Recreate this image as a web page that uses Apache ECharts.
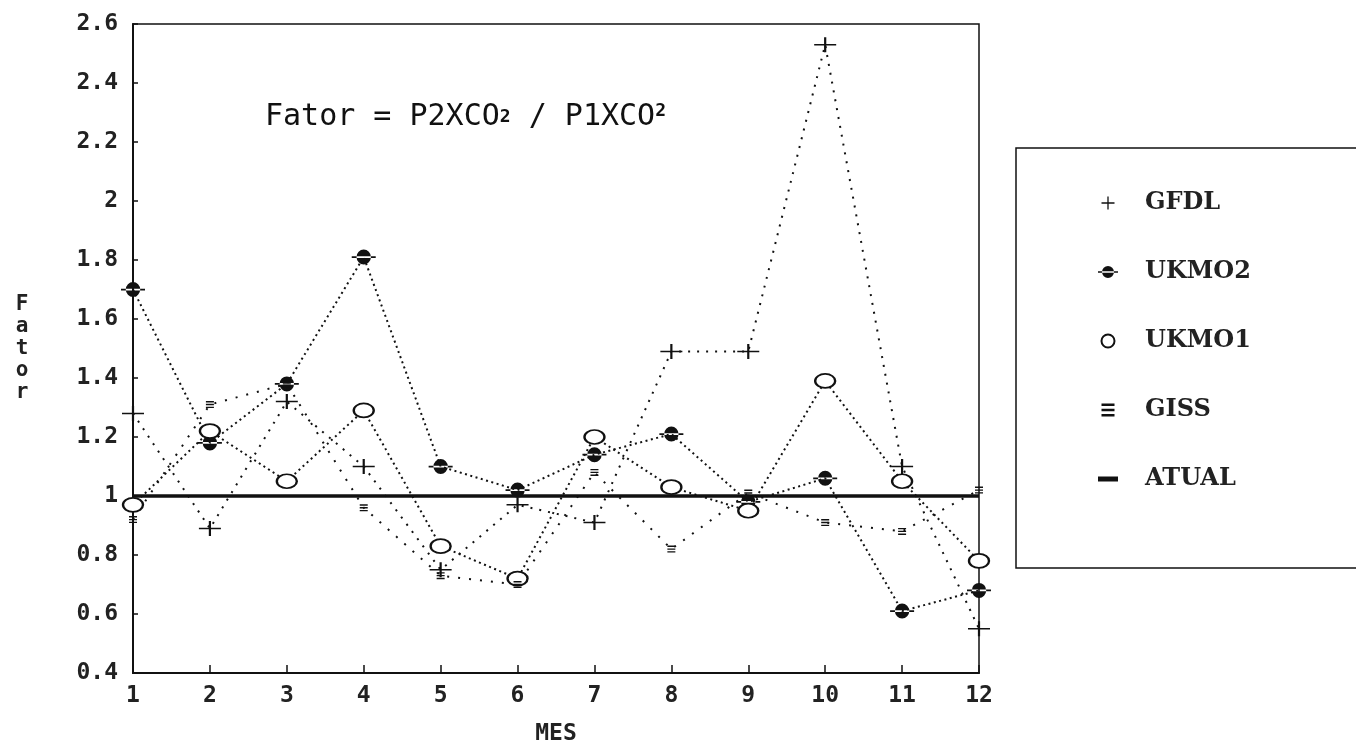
<!DOCTYPE html>
<html>
<head>
<meta charset="utf-8">
<script src="https://cdn.jsdelivr.net/npm/echarts/dist/echarts.min.js"></script>
<style>
html,body{margin:0;padding:0;background:#fff;}
#chart{width:1356px;height:751px;}
</style>
</head>
<body>
<div id="chart"></div>
<script>
// ---- data ----
const months = ['1','2','3','4','5','6','7','8','9','10','11','12'];
const seriesNames = ['GFDL','UKMO2','UKMO1','GISS','ATUAL'];
const gfdl  = [1.28, 0.89, 1.32, 1.10, 0.75, 0.97, 0.91, 1.49, 1.49, 2.53, 1.10, 0.55];
const ukmo2 = [1.70, 1.18, 1.38, 1.81, 1.10, 1.02, 1.14, 1.21, 0.98, 1.06, 0.61, 0.68];
const ukmo1 = [0.97, 1.22, 1.05, 1.29, 0.83, 0.72, 1.20, 1.03, 0.95, 1.39, 1.05, 0.78];
const giss  = [0.92, 1.31, 1.38, 0.96, 0.73, 0.70, 1.08, 0.82, 1.01, 0.91, 0.88, 1.02];
const atual = [1, 1, 1, 1, 1, 1, 1, 1, 1, 1, 1, 1];
const yMin = 0.4, yMax = 2.6, yStep = 0.2;
const xTitle = 'MES';
const yTitle = 'Fator';

// ---- symbols ----
const symPlus = 'path://M0,9H20V11H0Z M9,0H11V20H9Z';
const symFilled = 'path://M0,9.3H20V10.7H0Z M4,10A6,6 0 1,0 16,10A6,6 0 1,0 4,10Z';
const symGiss = 'path://M0,0H10V2H0Z M0,4H10V6H0Z M0,8H10V10H0Z';
const symBar = 'path://M0,0H20V5H0Z';

const ink = '#111';
const monoFont = '"DejaVu Sans Mono", monospace';

const chart = echarts.init(document.getElementById('chart'), null, {renderer: 'canvas'});

const option = {
  backgroundColor: '#fff',
  animation: false,
  grid: {
    left: 133, right: 377, top: 24, bottom: 70,
    show: true, borderColor: ink, borderWidth: 1.5
  },
  legend: {
    orient: 'vertical',
    left: 1016, top: 148,
    padding: [43, 260, 77, 82],
    itemWidth: 20, itemHeight: 13,
    itemGap: 45,
    selectedMode: false,
    borderColor: ink, borderWidth: 1.5,
    textStyle: {
      fontFamily: '"DejaVu Serif", serif', fontWeight: 'bold',
      fontSize: 24, color: '#222', lineHeight: 22,
      padding: [0, 0, 0, 22]
    },
    data: [
      {name: seriesNames[0], icon: symPlus},
      {name: seriesNames[1], icon: symFilled},
      {name: seriesNames[2], icon: 'emptyCircle'},
      {name: seriesNames[3], icon: symGiss},
      {name: seriesNames[4], icon: symBar}
    ]
  },
  xAxis: {
    type: 'category',
    data: months,
    boundaryGap: false,
    name: xTitle,
    nameLocation: 'middle',
    nameGap: 50,
    nameTextStyle: {fontFamily: monoFont, fontWeight: 'bold', fontSize: 23, color: '#222'},
    axisLine: {lineStyle: {color: ink, width: 2}},
    axisTick: {inside: true, length: 8, alignWithLabel: true, lineStyle: {color: ink, width: 1.5}},
    axisLabel: {margin: 12, fontFamily: monoFont, fontWeight: 'bold', fontSize: 23, color: '#222'},
    splitLine: {show: false}
  },
  yAxis: {
    type: 'value',
    min: yMin, max: yMax, interval: yStep,
    name: yTitle.split('').join('\n'),
    nameLocation: 'middle',
    nameRotate: 0,
    nameGap: 111,
    nameTextStyle: {fontFamily: monoFont, fontWeight: 'bold', fontSize: 21, color: '#222',
                    align: 'center', verticalAlign: 'middle', lineHeight: 22},
    axisLine: {show: true, lineStyle: {color: ink, width: 2}},
    axisTick: {show: true, inside: true, length: 5, lineStyle: {color: ink, width: 1.5}},
    axisLabel: {margin: 15, fontFamily: monoFont, fontWeight: 'bold', fontSize: 23, color: '#222'},
    splitLine: {show: false}
  },
  graphic: [{
    type: 'text',
    left: 265, top: 102,
    style: {
      text: '{a|Fator = P2XCO}{s|2}{a| / P1XCO}{t|2}',
      rich: {
        a: {fontFamily: monoFont, fontSize: 30, fill: ink},
        s: {fontFamily: monoFont, fontSize: 18, fontWeight: 'bold', fill: ink, verticalAlign: 'middle'},
        t: {fontFamily: monoFont, fontSize: 18, fontWeight: 'bold', fill: ink, verticalAlign: 'top'}
      }
    }
  }],
  series: [
    {
      name: seriesNames[0], type: 'line', data: gfdl,
      symbol: symPlus, symbolSize: [22, 15],
      itemStyle: {color: ink},
      lineStyle: {color: ink, width: 2, type: [2, 7]},
      z: 3
    },
    {
      name: seriesNames[1], type: 'line', data: ukmo2,
      symbol: symFilled, symbolSize: [24, 15],
      itemStyle: {color: ink},
      lineStyle: {color: ink, width: 2, type: [2, 3.5]},
      z: 3
    },
    {
      name: seriesNames[2], type: 'line', data: ukmo1,
      symbol: 'emptyCircle', symbolSize: [20, 14],
      itemStyle: {color: ink, borderWidth: 1.5},
      lineStyle: {color: ink, width: 2, type: [2, 3.5]},
      z: 3
    },
    {
      name: seriesNames[3], type: 'line', data: giss,
      symbol: symGiss, symbolSize: [8, 7],
      itemStyle: {color: ink},
      lineStyle: {color: ink, width: 2, type: [2, 9]},
      z: 3
    },
    {
      name: seriesNames[4], type: 'line', data: atual,
      symbol: 'none', showSymbol: false,
      itemStyle: {color: ink},
      lineStyle: {color: ink, width: 3.5, type: 'solid'},
      z: 2
    }
  ]
};

chart.setOption(option);
</script>
</body>
</html>
